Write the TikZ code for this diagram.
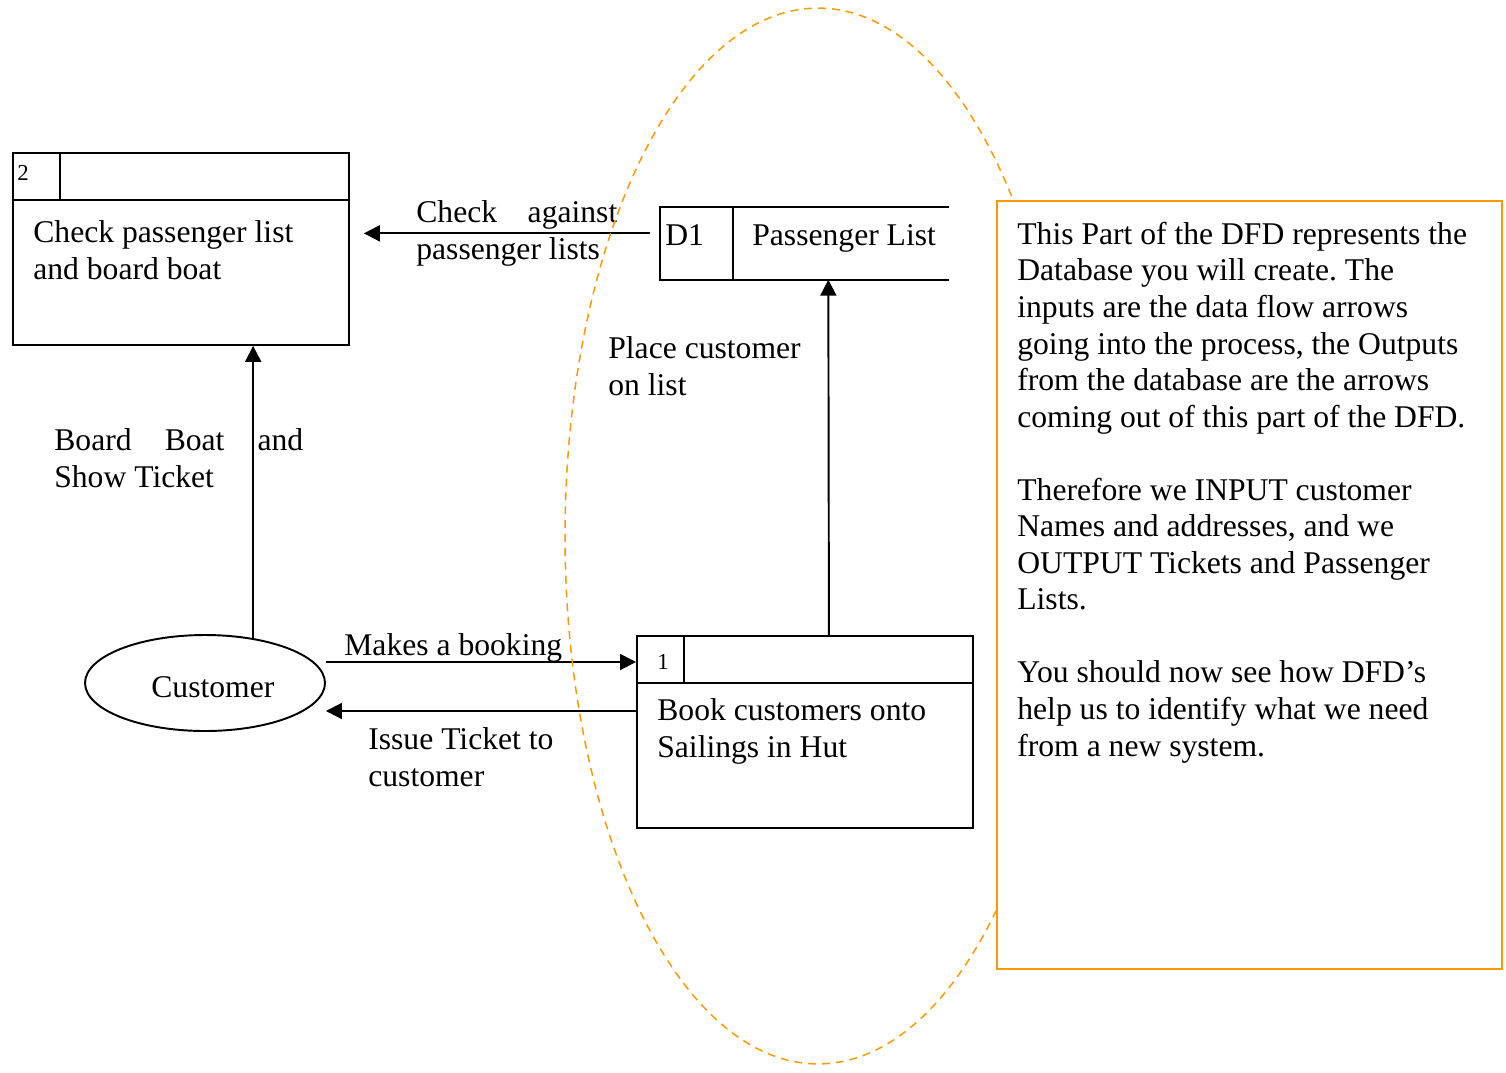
\documentclass[tikz,border=0pt]{standalone}
\usepackage{fontspec}
\setmainfont{Liberation Serif}
\usetikzlibrary{arrows.meta,shapes.geometric}
\frenchspacing

\definecolor{noteorange}{RGB}{255,153,0}

\tikzset{
  dfdline/.style={line width=1.1pt},
  procbox/.style={draw, dfdline, anchor=north west, inner sep=0pt,
    minimum width=6.72cm, minimum height=3.84cm},
  flow/.style={dfdline, -{Triangle[length=0.32cm, width=0.32cm]}},
  % multi-line texts: base is the baseline of the last line
  txt/.style={anchor=base west, align=left, inner sep=0pt,
    font=\fontsize{18}{20.8}\selectfont},
  numtxt/.style={anchor=base west, inner sep=0pt, font=\fontsize{13}{15}\selectfont},
}

\begin{document}
\begin{tikzpicture}[x=0.02cm, y=-0.02cm]
\useasboundingbox (0,0) rectangle (1506,1072);
% process 2
\node [procbox] (p2) at (12,152) {};
\draw [dfdline] ([yshift=-0.96cm]p2.north west) -- ([yshift=-0.96cm]p2.north east);
\draw [dfdline] ([xshift=0.96cm]p2.north west) -- ++(0,-0.96cm);
\node [numtxt] (p2num) at (17,180) {2};
\node [txt] (p2txt) at (33,279) {Check passenger list\\and board boat};
% process 1
\node [procbox] (p1) at (636,635) {};
\draw [dfdline] ([yshift=-0.96cm]p1.north west) -- ([yshift=-0.96cm]p1.north east);
\draw [dfdline] ([xshift=0.96cm]p1.north west) -- ++(0,-0.96cm);
\node [numtxt] (p1num) at (657,669) {1};
\node [txt] (p1txt) at (657,757) {Book customers onto\\Sailings in Hut};
% data store D1
\node [inner sep=0pt, anchor=north west, minimum width=5.76cm, minimum height=1.44cm] (d1) at (660,207) {};
\draw [dfdline] (d1.north east) -- (d1.north west) -- (d1.south west) -- (d1.south east);
\draw [dfdline] ([xshift=1.46cm]d1.north west) -- ([xshift=1.46cm]d1.south west);
\node [txt] (d1num) at (665,245) {D1};
\node [txt] (d1txt) at (752,245) {Passenger List};
% external entity
\node [draw, dfdline, ellipse, minimum width=4.8cm, minimum height=1.92cm, inner sep=0pt] (cust) at (205,683) {};
\node [txt] (custtxt) at (151,697) {Customer};
% data flows
\draw [flow] (cust.43) -- (cust.43 |- p2.south);
\draw [flow] ([yshift=0.42cm]cust.east) -- ([yshift=0.42cm]cust.east -| p1.west);
\draw [flow] ([yshift=-0.56cm]cust.east -| p1.west) -- ([yshift=-0.56cm]cust.east);
\draw [flow] ([xshift=0.48cm]p1.north) -- ([xshift=0.48cm]d1.south);
\draw [flow] ([shift={(-0.2cm,0.2cm)}]d1.west) -- ([shift={(0.28cm,0.2cm)}]d1.west -| p2.east);
% flow labels
\node [txt] (lcheck) at (416,259) {\makebox[4.02cm][s]{Check against}\\passenger lists};
\node [txt] (lplace) at (608,395) {Place customer\\on list};
\node [txt] (lboard) at (54,487) {\makebox[4.98cm][s]{Board Boat and}\\Show Ticket};
\node [txt] (lbook) at (344,655) {Makes a booking};
\node [txt] (lissue) at (368,786) {Issue Ticket to\\customer};
% database boundary
\draw [noteorange, line width=0.85pt, dash pattern=on 4.5pt off 3.4pt]
  (818,536) ellipse [x radius=5.06cm, y radius=10.56cm];
% note
\node [draw=noteorange, fill=white, dfdline, anchor=north west, inner sep=0pt,
  minimum width=10.1cm, minimum height=15.36cm] (note) at (996,200) {};
\node [txt] (notetxt) at (1017,756) {This Part of the DFD represents the\\
  Database you will create. The\\
  inputs are the data flow arrows\\
  going into the process, the Outputs\\
  from the database are the arrows\\
  coming out of this part of the DFD.\\[20.8pt]
  Therefore we INPUT customer\\
  Names and addresses, and we\\
  OUTPUT Tickets and Passenger\\
  Lists.\\[20.8pt]
  You should now see how DFD’s\\
  help us to identify what we need\\
  from a new system.};
\end{tikzpicture}
\end{document}
